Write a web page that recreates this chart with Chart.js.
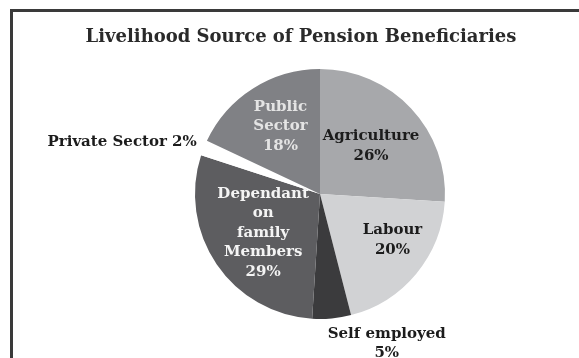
<!DOCTYPE html>
<html>
<head>
<meta charset="utf-8">
<script src="https://cdn.jsdelivr.net/npm/chart.js@4"></script>
<style>
  html, body { margin: 0; padding: 0; background: #fff; }
  #wrap { position: relative; width: 579px; height: 358px; overflow: hidden; }
  #frame {
    position: absolute; left: 10px; top: 9px; width: 600px; height: 400px;
    border-left: 3px solid #3a3a3a; border-top: 3px solid #3a3a3a;
  }
  #box { position: absolute; left: 0; top: 0; width: 579px; height: 358px; }
</style>
</head>
<body>
<div id="wrap">
  <div id="frame"></div>
  <div id="box"><canvas id="pie"></canvas></div>
</div>
<script>
let chartTitle = "Livelihood Source of Pension Beneficiaries";
let categories = ["Agriculture", "Labour", "Self employed", "Dependant on family Members", "Private Sector", "Public Sector"];
let shares = [26, 20, 5, 29, 2, 18];

// how each category name is broken onto lines
let nameLines = [
    ["Agriculture"],
    ["Labour"],
    ["Self employed"],
    ["Dependant", "on", "family", "Members"],
    ["Private Sector"],
    ["Public", "Sector"]
];

let sliceColors = ["#a7a8ab", "#d1d2d4", "#3b3b3d", "#5d5d60", "#ffffff", "#808185"];
let textColors = ["#1c1c1c", "#1c1c1c", "#1c1c1c", "#f4f4f4", "#1c1c1c", "#e4e4e4"];

// r: fraction of radius along the slice middle, dx/dy: nudge, inline: percent on same line
let spots = [
    {r: 0.56, dx: 0, dy: 0},
    {r: 0.69, dx: 6, dy: -9},
    {r: 1.0, dx: 55, dy: 25},
    {r: 0.55, dx: 0, dy: 0},
    {r: 1.0, dx: -7, dy: -6, align: "right", inline: true},
    {r: 0.62, dx: 2, dy: -2}
];

const SERIF = '"DejaVu Serif", "Liberation Serif", serif';

let sliceLabels = {
    id: "sliceLabels",
    afterDraw(chart) {
        let ctx = chart.ctx;
        let meta = chart.getDatasetMeta(0);
        ctx.save();

        // title
        ctx.font = "bold 18px " + SERIF;
        ctx.fillStyle = "#2a2a2a";
        ctx.textAlign = "center";
        ctx.textBaseline = "middle";
        ctx.fillText(chartTitle, 301, 37);

        ctx.font = "bold 15px " + SERIF;
        let lineH = 19.5;
        meta.data.forEach(function(arc, i) {
            let p = arc.getProps(["x", "y", "startAngle", "endAngle", "outerRadius"], true);
            let mid = (p.startAngle + p.endAngle) / 2;
            let s = spots[i];
            let x = p.x + Math.cos(mid) * p.outerRadius * s.r + s.dx;
            let y = p.y + Math.sin(mid) * p.outerRadius * s.r + s.dy;
            let lines;
            if (s.inline) {
                lines = [nameLines[i].join(" ") + " " + shares[i] + "%"];
            } else {
                lines = nameLines[i].concat([shares[i] + "%"]);
            }
            ctx.fillStyle = textColors[i];
            ctx.textAlign = s.align || "center";
            let top = y - (lines.length - 1) * lineH / 2;
            lines.forEach(function(t, k) {
                ctx.fillText(t, x, top + k * lineH);
            });
        });
        ctx.restore();
    }
};

let ctx = document.getElementById("pie").getContext("2d");
let chart = new Chart(ctx, {
    type: "pie",
    data: {
        labels: categories,
        datasets: [{
            data: shares,
            backgroundColor: sliceColors,
            borderWidth: 0
        }]
    },
    options: {
        responsive: true,
        maintainAspectRatio: false,
        animation: false,
        layout: {
            padding: {left: 195, right: 134, top: 69, bottom: 39}
        },
        plugins: {
            legend: {display: false},
            tooltip: {enabled: false},
            title: {display: false}
        }
    },
    plugins: [sliceLabels]
});
</script>
</body>
</html>
